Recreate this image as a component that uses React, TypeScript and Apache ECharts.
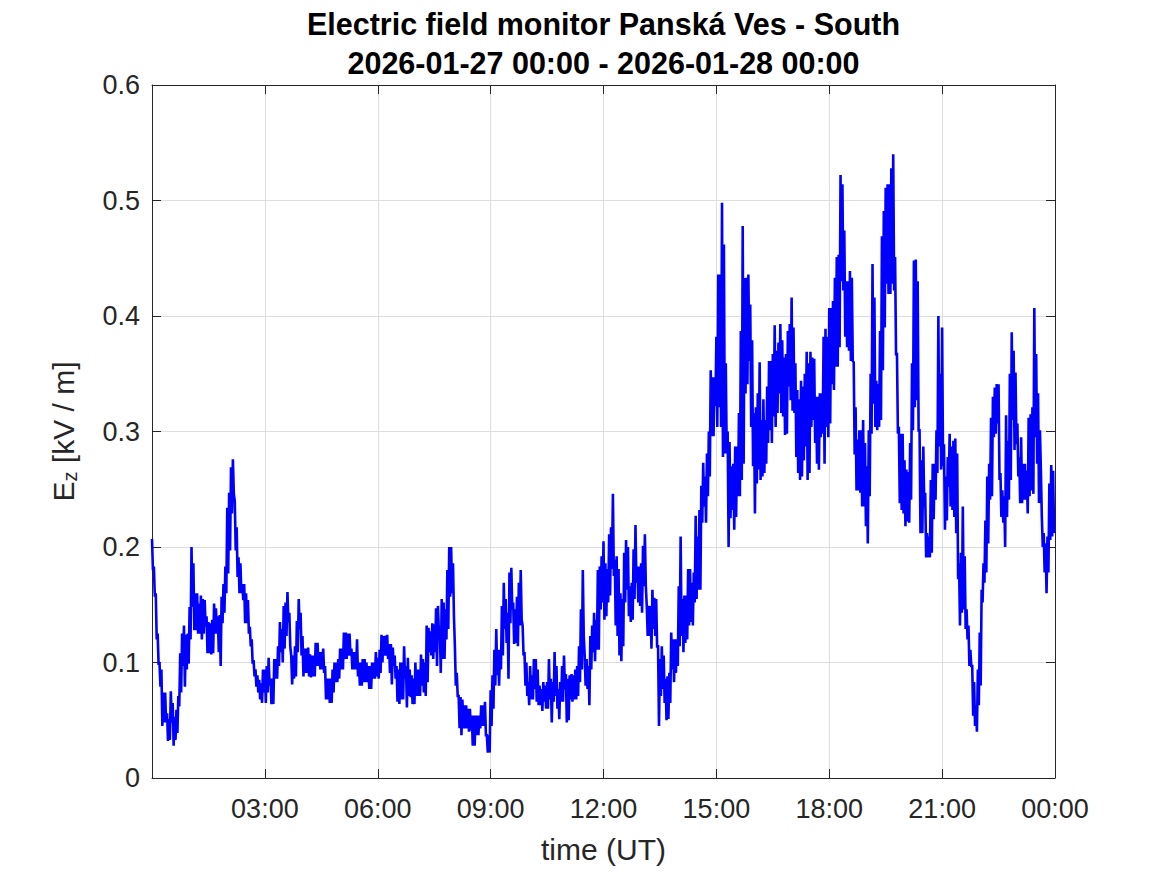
import React, { useEffect, useRef } from "react";
import * as echarts from "echarts";

// Ez [kV/m]: upper / lower envelope of the signal in 3-minute bins, per 3-hour block (UT)
const hi00 = [0.207,0.183,0.16,0.125,0.099,0.094,0.074,0.074,0.056,0.051,0.075,0.065,0.053,0.059,0.071,0.108,0.125,0.132,0.124,0.125,0.148,0.2,0.186,0.16,0.16,0.151,0.158,0.155,0.154,0.14,0.135,0.134,0.137,0.151,0.147,0.14,0.141,0.157,0.168,0.183,0.234,0.247,0.269,0.276,0.24,0.217,0.191,0.186,0.168,0.168,0.16,0.154,0.131,0.12,0.102,0.094,0.089,0.085,0.082,0.094];
const lo00 = [0.18,0.157,0.12,0.099,0.079,0.045,0.048,0.048,0.032,0.033,0.048,0.028,0.033,0.039,0.062,0.074,0.097,0.079,0.094,0.099,0.12,0.148,0.128,0.128,0.125,0.125,0.12,0.125,0.131,0.108,0.108,0.107,0.108,0.125,0.125,0.109,0.097,0.134,0.143,0.16,0.177,0.197,0.229,0.246,0.197,0.174,0.16,0.16,0.154,0.134,0.134,0.125,0.114,0.099,0.088,0.079,0.074,0.068,0.065,0.074];
const hi03 = [0.094,0.097,0.104,0.086,0.086,0.103,0.103,0.114,0.135,0.129,0.149,0.152,0.161,0.143,0.106,0.106,0.114,0.136,0.155,0.143,0.123,0.112,0.112,0.113,0.107,0.106,0.106,0.117,0.117,0.109,0.109,0.112,0.097,0.086,0.086,0.086,0.094,0.1,0.1,0.103,0.112,0.112,0.126,0.126,0.125,0.125,0.112,0.109,0.109,0.12,0.1,0.1,0.103,0.103,0.1,0.097,0.097,0.1,0.1,0.109];
const lo03 = [0.065,0.074,0.08,0.064,0.064,0.086,0.086,0.097,0.109,0.1,0.112,0.123,0.135,0.114,0.081,0.086,0.088,0.109,0.129,0.106,0.088,0.091,0.091,0.088,0.087,0.088,0.088,0.097,0.097,0.094,0.094,0.091,0.068,0.068,0.065,0.065,0.074,0.083,0.083,0.086,0.094,0.094,0.103,0.103,0.106,0.106,0.094,0.094,0.094,0.088,0.08,0.08,0.083,0.083,0.083,0.077,0.077,0.086,0.086,0.088];
const hi06 = [0.104,0.111,0.124,0.123,0.123,0.124,0.116,0.116,0.113,0.106,0.097,0.094,0.1,0.1,0.114,0.097,0.104,0.094,0.089,0.086,0.1,0.094,0.094,0.107,0.103,0.1,0.132,0.13,0.127,0.134,0.133,0.147,0.149,0.129,0.155,0.152,0.146,0.18,0.2,0.2,0.186,0.114,0.091,0.071,0.07,0.068,0.063,0.063,0.06,0.06,0.054,0.054,0.054,0.054,0.054,0.063,0.063,0.066,0.037,0.037];
const lo06 = [0.086,0.091,0.1,0.106,0.106,0.103,0.091,0.081,0.097,0.086,0.066,0.064,0.068,0.068,0.086,0.061,0.071,0.07,0.064,0.064,0.071,0.071,0.071,0.08,0.074,0.071,0.083,0.109,0.106,0.103,0.109,0.097,0.126,0.091,0.103,0.103,0.12,0.129,0.157,0.16,0.14,0.08,0.071,0.043,0.037,0.043,0.043,0.043,0.04,0.041,0.028,0.028,0.037,0.037,0.043,0.045,0.045,0.037,0.022,0.022];
const hi09 = [0.076,0.089,0.111,0.129,0.111,0.111,0.149,0.169,0.155,0.143,0.178,0.182,0.152,0.146,0.157,0.169,0.18,0.132,0.109,0.1,0.083,0.097,0.089,0.103,0.103,0.094,0.08,0.077,0.083,0.08,0.083,0.103,0.086,0.083,0.109,0.097,0.077,0.083,0.097,0.106,0.09,0.086,0.089,0.09,0.089,0.094,0.097,0.114,0.146,0.18,0.106,0.103,0.097,0.123,0.132,0.143,0.137,0.18,0.183,0.192];
const lo09 = [0.045,0.06,0.08,0.089,0.08,0.094,0.106,0.129,0.117,0.086,0.134,0.146,0.116,0.117,0.114,0.132,0.137,0.106,0.08,0.071,0.063,0.068,0.068,0.077,0.066,0.063,0.063,0.058,0.066,0.06,0.06,0.068,0.048,0.066,0.071,0.06,0.051,0.066,0.066,0.077,0.048,0.05,0.068,0.066,0.068,0.068,0.071,0.083,0.094,0.123,0.08,0.077,0.063,0.094,0.109,0.101,0.111,0.111,0.146,0.152];
const hi12 = [0.205,0.186,0.181,0.211,0.217,0.246,0.189,0.192,0.181,0.16,0.155,0.195,0.206,0.2,0.166,0.169,0.198,0.219,0.183,0.183,0.186,0.201,0.211,0.149,0.149,0.149,0.163,0.156,0.155,0.114,0.103,0.114,0.106,0.086,0.088,0.091,0.126,0.12,0.12,0.12,0.166,0.209,0.155,0.158,0.158,0.181,0.181,0.169,0.178,0.227,0.209,0.232,0.253,0.273,0.261,0.281,0.3,0.353,0.347,0.347];
const lo12 = [0.137,0.14,0.152,0.158,0.181,0.175,0.132,0.123,0.106,0.101,0.114,0.152,0.163,0.14,0.135,0.137,0.155,0.169,0.152,0.149,0.143,0.166,0.166,0.123,0.123,0.112,0.129,0.123,0.114,0.045,0.071,0.077,0.065,0.05,0.051,0.065,0.094,0.083,0.091,0.097,0.114,0.123,0.109,0.117,0.12,0.132,0.135,0.132,0.152,0.155,0.163,0.163,0.221,0.235,0.221,0.244,0.261,0.296,0.296,0.322];
const hi15 = [0.382,0.436,0.436,0.498,0.462,0.359,0.3,0.291,0.27,0.272,0.287,0.287,0.316,0.387,0.478,0.433,0.433,0.436,0.41,0.379,0.316,0.321,0.333,0.36,0.31,0.328,0.31,0.339,0.361,0.361,0.367,0.392,0.37,0.377,0.393,0.379,0.364,0.367,0.387,0.393,0.416,0.39,0.359,0.336,0.328,0.344,0.339,0.35,0.369,0.359,0.369,0.364,0.363,0.33,0.33,0.333,0.333,0.382,0.389,0.382];
const lo15 = [0.304,0.321,0.304,0.278,0.281,0.281,0.2,0.225,0.232,0.215,0.226,0.244,0.244,0.258,0.272,0.333,0.341,0.361,0.304,0.27,0.229,0.255,0.267,0.258,0.261,0.264,0.272,0.29,0.301,0.29,0.313,0.304,0.316,0.333,0.316,0.313,0.297,0.298,0.339,0.327,0.318,0.316,0.278,0.264,0.258,0.261,0.275,0.287,0.258,0.264,0.304,0.31,0.29,0.272,0.267,0.295,0.298,0.272,0.304,0.295];
const hi18 = [0.407,0.407,0.413,0.433,0.451,0.453,0.522,0.514,0.474,0.43,0.43,0.439,0.433,0.36,0.321,0.293,0.301,0.301,0.31,0.29,0.27,0.301,0.35,0.445,0.416,0.344,0.341,0.387,0.469,0.491,0.511,0.514,0.514,0.528,0.54,0.451,0.367,0.304,0.298,0.298,0.275,0.267,0.265,0.29,0.359,0.448,0.449,0.43,0.301,0.275,0.287,0.247,0.212,0.209,0.258,0.272,0.272,0.301,0.4,0.35];
const lo18 = [0.307,0.341,0.336,0.356,0.356,0.373,0.43,0.422,0.382,0.373,0.37,0.361,0.361,0.28,0.249,0.249,0.247,0.235,0.235,0.218,0.203,0.244,0.298,0.324,0.304,0.301,0.304,0.31,0.353,0.39,0.428,0.419,0.419,0.428,0.422,0.367,0.298,0.238,0.232,0.229,0.218,0.222,0.221,0.241,0.301,0.321,0.327,0.301,0.212,0.212,0.235,0.191,0.191,0.191,0.195,0.224,0.241,0.264,0.287,0.267];
const hi21 = [0.39,0.289,0.261,0.278,0.298,0.287,0.292,0.294,0.281,0.186,0.195,0.235,0.192,0.146,0.132,0.111,0.097,0.083,0.063,0.094,0.126,0.163,0.186,0.223,0.261,0.272,0.312,0.33,0.338,0.341,0.341,0.264,0.249,0.244,0.314,0.292,0.35,0.386,0.37,0.351,0.307,0.278,0.295,0.272,0.272,0.266,0.312,0.315,0.321,0.407,0.367,0.333,0.301,0.226,0.212,0.203,0.209,0.255,0.271,0.266];
const lo21 = [0.27,0.215,0.223,0.252,0.235,0.232,0.226,0.212,0.172,0.132,0.143,0.146,0.129,0.12,0.097,0.097,0.054,0.045,0.04,0.063,0.08,0.152,0.169,0.178,0.203,0.241,0.244,0.295,0.298,0.307,0.258,0.226,0.221,0.2,0.226,0.241,0.258,0.31,0.284,0.289,0.261,0.238,0.238,0.241,0.241,0.229,0.244,0.249,0.246,0.295,0.272,0.238,0.266,0.2,0.178,0.16,0.178,0.206,0.209,0.212];

const upper = [hi00, hi03, hi06, hi09, hi12, hi15, hi18, hi21];
const lower = [lo00, lo03, lo06, lo09, lo12, lo15, lo18, lo21];
const blockMinutes = 180;
const binMinutes = 3;

const yTicks = [0, 0.1, 0.2, 0.3, 0.4, 0.5, 0.6];
const titleLines = ["Electric field monitor Panská Ves - South", "2026-01-27 00:00 - 2026-01-28 00:00"];

const FONT = "'Liberation Sans', Arial, Helvetica, sans-serif";
const TXT = "#262626";

function fmtTime(m: number): string {
  if (m === 0) return "";
  const h = Math.floor(m / 60) % 24;
  const mm = m % 60;
  return String(h).padStart(2, "0") + ":" + String(mm).padStart(2, "0");
}

const mkTick = () => ({ show: true, inside: true, length: 9, lineStyle: { color: TXT, width: 1 } });
const mkLine = () => ({ show: true, onZero: false, lineStyle: { color: TXT, width: 1 } });

export default function App() {
  const ref = useRef<HTMLDivElement>(null);
  useEffect(() => {
    if (!ref.current) return;
    const chart = echarts.init(ref.current, undefined, { renderer: "svg" });
    const data: [number, number][] = [];
    upper.forEach((hb, k) => {
      const lb = lower[k];
      hb.forEach((h, i) => {
        const t = k * blockMinutes + i * binMinutes;
        data.push([t, h]);
        data.push([t + binMinutes / 2, lb[i]]);
      });
    });
    chart.setOption({
      animation: false,
      backgroundColor: "#ffffff",
      title: {
        text: titleLines.join("\n"),
        left: 598.5,
        top: -1,
        textAlign: "center",
        textStyle: { fontFamily: FONT, fontSize: 30.5, fontWeight: "bold", color: "#000", lineHeight: 39 },
      },
      grid: { left: 152, right: 112, top: 85, bottom: 97, containLabel: false },
      xAxis: [
        {
          type: "value", min: 0, max: 1440, interval: 180, position: "bottom",
          name: "time (UT)", nameLocation: "middle", nameGap: 56,
          nameTextStyle: { fontFamily: FONT, fontSize: 30, color: TXT },
          axisLine: mkLine(), axisTick: mkTick(),
          axisLabel: { formatter: fmtTime, fontFamily: FONT, fontSize: 27, color: TXT, margin: 17 },
          splitLine: { show: true, lineStyle: { color: "#dedede", width: 1 } },
        },
        {
          type: "value", min: 0, max: 1440, interval: 180, position: "top",
          axisLine: mkLine(), axisTick: mkTick(), axisLabel: { show: false }, splitLine: { show: false },
        },
      ],
      yAxis: [
        {
          type: "value", min: 0, max: 0.6, interval: 0.1, position: "left",
          name: "{e|E}{z|z}{e| [kV / m]}", nameLocation: "middle", nameGap: 72,
          nameTextStyle: {
            fontFamily: FONT, fontSize: 30, color: TXT,
            rich: {
              e: { fontFamily: FONT, fontSize: 30, color: TXT },
              z: { fontFamily: FONT, fontSize: 20, color: TXT, padding: [14, 0, 0, 0] },
            },
          },
          axisLine: mkLine(), axisTick: mkTick(),
          axisLabel: {
            fontFamily: FONT, fontSize: 27, color: TXT, margin: 12,
            formatter: (v: number) => String(yTicks.find((t) => Math.abs(t - v) < 1e-9) ?? v),
          },
          splitLine: { show: true, lineStyle: { color: "#dedede", width: 1 } },
        },
        {
          type: "value", min: 0, max: 0.6, interval: 0.1, position: "right",
          axisLine: mkLine(), axisTick: mkTick(), axisLabel: { show: false }, splitLine: { show: false },
        },
      ],
      series: [
        {
          type: "line", data, showSymbol: false, xAxisIndex: 0, yAxisIndex: 0,
          lineStyle: { color: "#0000ff", width: 2.6, join: "miter" }, z: 3,
        },
      ],
    });
    return () => chart.dispose();
  }, []);
  return (
    <div
      ref={ref}
      style={{ position: "absolute", left: 0, top: 0, width: 1167, height: 875, background: "#fff" }}
    />
  );
}
